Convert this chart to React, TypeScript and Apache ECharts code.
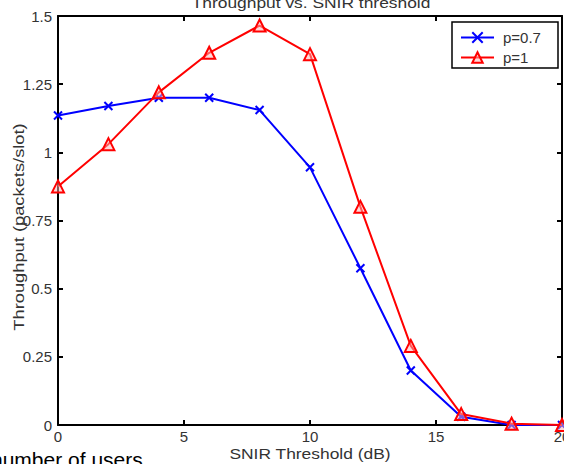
import React, { useEffect, useRef } from "react";
import * as echarts from "echarts";

const xValues = [0, 2, 4, 6, 8, 10, 12, 14, 16, 18, 20];
const p07 = [1.135, 1.17, 1.2, 1.2, 1.155, 0.945, 0.575, 0.2, 0.03, 0.0, 0.0];
const p1 = [0.875, 1.03, 1.22, 1.365, 1.465, 1.36, 0.8, 0.29, 0.04, 0.005, 0.0];
const seriesNames = ["p=0.7", "p=1"];
const titleText = "Throughput vs. SNIR threshold";
const xName = "SNIR Threshold (dB)";
const yName = "Throughput (packets/slot)";
const footText = "number of users";

const FONT = "Liberation Sans, Arial, sans-serif";

export default function App() {
  const ref = useRef<HTMLDivElement>(null);
  useEffect(() => {
    if (!ref.current) return;
    const chart = echarts.init(ref.current, null, { renderer: "svg" });
    const pairs = (ys: number[]) => xValues.map((x, i) => [x, ys[i]]);
    const frameAxis = {
      axisLine: { show: true, onZero: false, lineStyle: { color: "#000", width: 2 } },
      axisTick: { show: true, inside: true, length: 5, lineStyle: { color: "#000", width: 2 } },
      splitLine: { show: false },
    };
    chart.setOption({
      animation: false,
      backgroundColor: "#fff",
      textStyle: { fontFamily: FONT },
      grid: { left: 58, right: 2, top: 16, bottom: 39, containLabel: false, outerBoundsMode: "none" },
      legend: {
        orient: "vertical",
        left: 460,
        top: 30,
        itemWidth: 33,
        itemHeight: 13,
        itemGap: 5,
        padding: 0,
        textStyle: { fontFamily: FONT, fontSize: 15, color: "#333", padding: [0, 0, 0, 4] },
        data: seriesNames,
        z: 10,
      },
      xAxis: [
        {
          type: "value",
          min: 0,
          max: 20,
          interval: 5,
          position: "bottom",
          ...frameAxis,
          axisLabel: { color: "#333", fontSize: 15, margin: 4, fontFamily: FONT },
        },
        {
          type: "value",
          min: 0,
          max: 20,
          interval: 5,
          position: "top",
          ...frameAxis,
          axisLabel: { show: false },
        },
      ],
      yAxis: [
        {
          type: "value",
          min: 0,
          max: 1.5,
          interval: 0.25,
          position: "left",
          ...frameAxis,
          axisLabel: { color: "#333", fontSize: 15, margin: 6, fontFamily: FONT },
        },
        {
          type: "value",
          min: 0,
          max: 1.5,
          interval: 0.25,
          position: "right",
          ...frameAxis,
          axisLabel: { show: false },
        },
      ],
      graphic: [
        {
          type: "rect",
          shape: { x: 452, y: 22, width: 106, height: 46 },
          style: { fill: "#fff", stroke: "#000", lineWidth: 1.5 },
          z: 5,
        },
        {
          type: "text",
          x: 311,
          y: 10,
          scaleX: 1.16,
          style: { text: titleText, align: "center", verticalAlign: "bottom", fill: "#333", font: `15px ${FONT}` },
        },
        {
          type: "text",
          x: 310,
          y: 453,
          scaleX: 1.16,
          style: { text: xName, align: "center", verticalAlign: "middle", fill: "#333", font: `15px ${FONT}` },
        },
        {
          type: "text",
          x: 19,
          y: 227,
          rotation: Math.PI / 2,
          scaleX: 1.22,
          style: { text: yName, align: "center", verticalAlign: "middle", fill: "#333", font: `15px ${FONT}` },
        },
        {
          type: "text",
          x: -9,
          y: 470,
          style: { text: footText, fill: "#000", verticalAlign: "bottom", font: `21px ${FONT}` },
        },
      ],
      series: [
        {
          name: seriesNames[0],
          type: "line",
          data: pairs(p07),
          symbol: "path://M0,0 L10,10 M10,0 L0,10",
          symbolSize: 8,
          showAllSymbol: true,
          lineStyle: { color: "#0000ff", width: 2 },
          itemStyle: { color: "#0000ff", borderColor: "#0000ff", borderWidth: 2 },
          z: 3,
        },
        {
          name: seriesNames[1],
          type: "line",
          data: pairs(p1),
          symbol: "triangle",
          symbolSize: 12,
          showAllSymbol: true,
          lineStyle: { color: "#ff0000", width: 2 },
          itemStyle: { color: "rgba(255,180,180,0.5)", borderColor: "#ff0000", borderWidth: 2 },
          z: 4,
        },
      ],
    });
    return () => chart.dispose();
  }, []);
  return <div ref={ref} style={{ width: 564, height: 464, position: "absolute", left: 0, top: 0 }} />;
}
